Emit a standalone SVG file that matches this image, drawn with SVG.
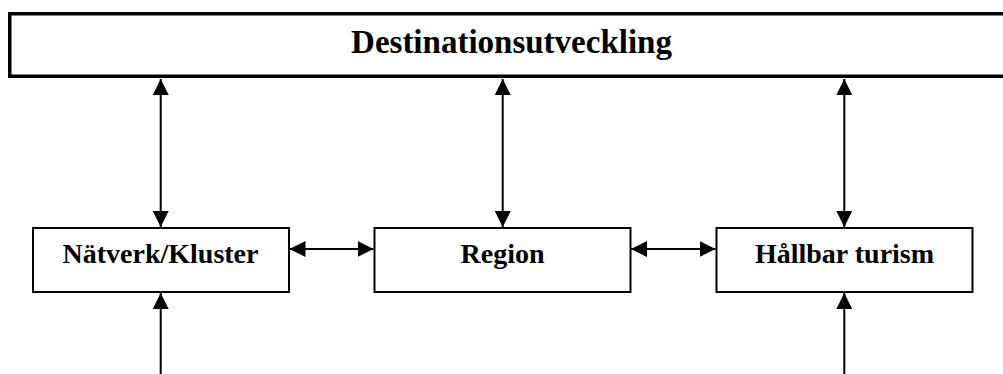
<svg xmlns="http://www.w3.org/2000/svg" width="1003" height="374" viewBox="0 0 1003 374">
<style>
.box{fill:#fff;stroke:#000;stroke-width:2}
.top{fill:#fff;stroke:#000;stroke-width:3.5}
.lbl{font-family:"Liberation Serif","Times New Roman",serif;font-weight:bold;fill:#000;text-anchor:middle}
.con{stroke:#000;stroke-width:2;fill:none}
</style>
<defs>
<marker id="ah" markerUnits="userSpaceOnUse" markerWidth="16" markerHeight="16" viewBox="0 0 15 15" refX="15" refY="7.5" orient="auto-start-reverse">
<path d="M0,0 L15,7.5 L0,15 Z" fill="#000"/>
</marker>
</defs>
<rect width="1003" height="374" fill="#fff"/>
<g id="destinationsutveckling">
<rect class="top" x="9.75" y="13.75" width="1010" height="62.5"/>
<text class="lbl" x="511.5" y="53" font-size="33">Destinationsutveckling</text>
</g>
<g id="natverk">
<rect class="box" x="33" y="228" width="256" height="64"/>
<text class="lbl" x="160.5" y="263" font-size="28">Nätverk/Kluster</text>
</g>
<g id="region">
<rect class="box" x="374.5" y="228" width="256" height="64"/>
<text class="lbl" x="502.5" y="263" font-size="28">Region</text>
</g>
<g id="hallbar">
<rect class="box" x="716.5" y="228" width="256" height="64"/>
<text class="lbl" x="844.5" y="263" font-size="28">Hållbar turism</text>
</g>
<g id="connectors">
<line class="con" x1="160.7" y1="79" x2="160.7" y2="227" marker-start="url(#ah)" marker-end="url(#ah)"/>
<line class="con" x1="502.7" y1="79" x2="502.7" y2="227" marker-start="url(#ah)" marker-end="url(#ah)"/>
<line class="con" x1="844.3" y1="79" x2="844.3" y2="227" marker-start="url(#ah)" marker-end="url(#ah)"/>
<line class="con" x1="289.5" y1="249" x2="373.5" y2="249" marker-start="url(#ah)" marker-end="url(#ah)"/>
<line class="con" x1="631" y1="249" x2="715.5" y2="249" marker-start="url(#ah)" marker-end="url(#ah)"/>
<line class="con" x1="160.7" y1="380" x2="160.7" y2="293" marker-end="url(#ah)"/>
<line class="con" x1="844.3" y1="380" x2="844.3" y2="293" marker-end="url(#ah)"/>
</g>
</svg>
